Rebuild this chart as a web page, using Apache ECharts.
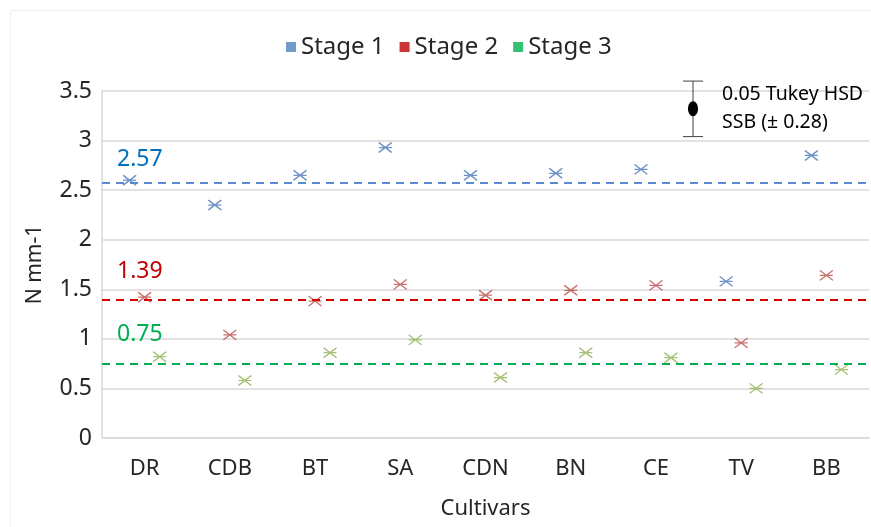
<!DOCTYPE html>
<html>
<head>
<meta charset="utf-8">
<title>N mm-1 by cultivar and stage</title>
<script src="https://cdn.jsdelivr.net/npm/echarts@6/dist/echarts.min.js"></script>
<style>
  html, body { margin: 0; padding: 0; background: #fff; }
  #chart { width: 871px; height: 527px; }
</style>
</head>
<body>
<div id="chart"></div>
<script>
// Cultivars on the x axis
const categories = ['DR', 'CDB', 'BT', 'SA', 'CDN', 'BN', 'CE', 'TV', 'BB'];

// N mm-1 per cultivar, one array per stage
const stage1 = [2.60, 2.35, 2.65, 2.93, 2.65, 2.67, 2.71, 1.58, 2.85];
const stage2 = [1.42, 1.04, 1.38, 1.55, 1.44, 1.49, 1.54, 0.96, 1.64];
const stage3 = [0.82, 0.58, 0.86, 0.99, 0.61, 0.86, 0.81, 0.50, 0.69];

// Stage means drawn as dashed reference lines
const stageMeans = [2.57, 1.39, 0.75];

// Tukey HSD bar: centre value and half-width
const hsdCenter = 3.32;
const hsdHalf = 0.28;

const FONT = '"Noto Sans", "Open Sans", sans-serif';
const stageNames = ['Stage 1', 'Stage 2', 'Stage 3'];
const stageData = [stage1, stage2, stage3];
const markerColors = ['#4A77B6', '#BC4D4A', '#93B356'];
const legendColors = ['#4F81BD', '#C00000', '#00B050'];
const meanLineColors = ['#5A8BD0', '#D80000', '#00B050'];
const meanLabelColors = ['#0070C0', '#C00000', '#00B050'];
const meanLabelLift = [12, 17, 18];
const xShift = [-15, 0, 15];

// Asterisk marker: an X crossed by a horizontal bar
const asterisk = 'path://M0,0L13,10M13,0L0,10M0,5L13,5';

const series = stageNames.map((name, i) => ({
  name: name,
  type: 'scatter',
  data: stageData[i],
  symbol: asterisk,
  symbolSize: [13, 10],
  symbolOffset: [xShift[i], 0],
  itemStyle: { color: 'none', borderColor: markerColors[i], borderWidth: 1.4 },
  emphasis: { disabled: true },
  markLine: {
    silent: true,
    symbol: 'none',
    lineStyle: { color: meanLineColors[i], type: [8, 6], width: 2 },
    label: {
      show: true,
      position: 'insideStartTop',
      distance: [15, meanLabelLift[i]],
      formatter: String(stageMeans[i].toFixed(2)),
      color: meanLabelColors[i],
      fontFamily: FONT,
      fontSize: 23
    },
    data: [{ yAxis: stageMeans[i] }]
  }
}));

const chart = echarts.init(document.getElementById('chart'), null, { renderer: 'canvas' });

chart.setOption({
  animation: false,
  textStyle: { fontFamily: FONT },
  legend: {
    top: 30,
    left: 281,
    itemWidth: 10,
    itemHeight: 10,
    itemGap: 15,
    icon: 'rect',
    textStyle: { fontSize: 24, color: '#262626', fontFamily: FONT },
    data: stageNames.map((n, i) => ({ name: n, icon: 'rect', itemStyle: { color: legendColors[i], borderWidth: 0 } }))
  },
  grid: { left: 102, right: 2, top: 91, bottom: 89, containLabel: false },
  xAxis: {
    type: 'category',
    data: categories,
    name: 'Cultivars',
    nameLocation: 'middle',
    nameGap: 60,
    nameTextStyle: { fontSize: 22, color: '#262626', fontFamily: FONT },
    axisLine: { lineStyle: { color: '#d9d9d9', width: 1.5 } },
    axisTick: { show: false },
    axisLabel: { fontSize: 22, color: '#262626', margin: 20, fontFamily: FONT },
    splitLine: { show: false }
  },
  yAxis: {
    type: 'value',
    min: 0,
    max: 3.5,
    interval: 0.5,
    name: 'N mm-1',
    nameLocation: 'middle',
    nameGap: 56,
    nameTextStyle: { fontSize: 21, color: '#262626', fontFamily: FONT },
    axisLine: { show: true, lineStyle: { color: '#d9d9d9', width: 1.5 } },
    axisTick: { show: false },
    axisLabel: { fontSize: 23, color: '#262626', margin: 10, fontFamily: FONT },
    splitLine: { lineStyle: { color: '#d9d9d9', width: 1.5 } }
  },
  series: series
});

// Tukey HSD annotation, placed on the y scale
const hsdX = 693;
const yTop = chart.convertToPixel({ yAxisIndex: 0 }, hsdCenter + hsdHalf);
const yMid = chart.convertToPixel({ yAxisIndex: 0 }, hsdCenter);
const yBot = chart.convertToPixel({ yAxisIndex: 0 }, hsdCenter - hsdHalf);

chart.setOption({
  graphic: [
    {
      type: 'rect', silent: true, z: -10,
      shape: { x: 10.5, y: 10.5, width: 900, height: 600 },
      style: { fill: 'none', stroke: '#efefef', lineWidth: 1 }
    },
    {
      type: 'group', silent: true, z: 100,
      children: [
        { type: 'line', shape: { x1: hsdX, y1: yTop, x2: hsdX, y2: yBot }, style: { stroke: '#404040', lineWidth: 1 } },
        { type: 'line', shape: { x1: hsdX - 10, y1: yTop, x2: hsdX + 10, y2: yTop }, style: { stroke: '#404040', lineWidth: 1 } },
        { type: 'line', shape: { x1: hsdX - 10, y1: yBot, x2: hsdX + 10, y2: yBot }, style: { stroke: '#404040', lineWidth: 1 } },
        { type: 'ellipse', shape: { cx: hsdX, cy: yMid, rx: 5, ry: 7.5 }, style: { fill: '#000' } },
        { type: 'text', x: 722, y: yMid - 14, style: { text: '0.05 Tukey HSD', fill: '#000', font: '19.5px ' + FONT, verticalAlign: 'middle' } },
        { type: 'text', x: 722, y: yMid + 14, style: { text: 'SSB (\u00b1 ' + hsdHalf.toFixed(2) + ')', fill: '#000', font: '19.5px ' + FONT, verticalAlign: 'middle' } }
      ]
    }
  ]
});
</script>
</body>
</html>
